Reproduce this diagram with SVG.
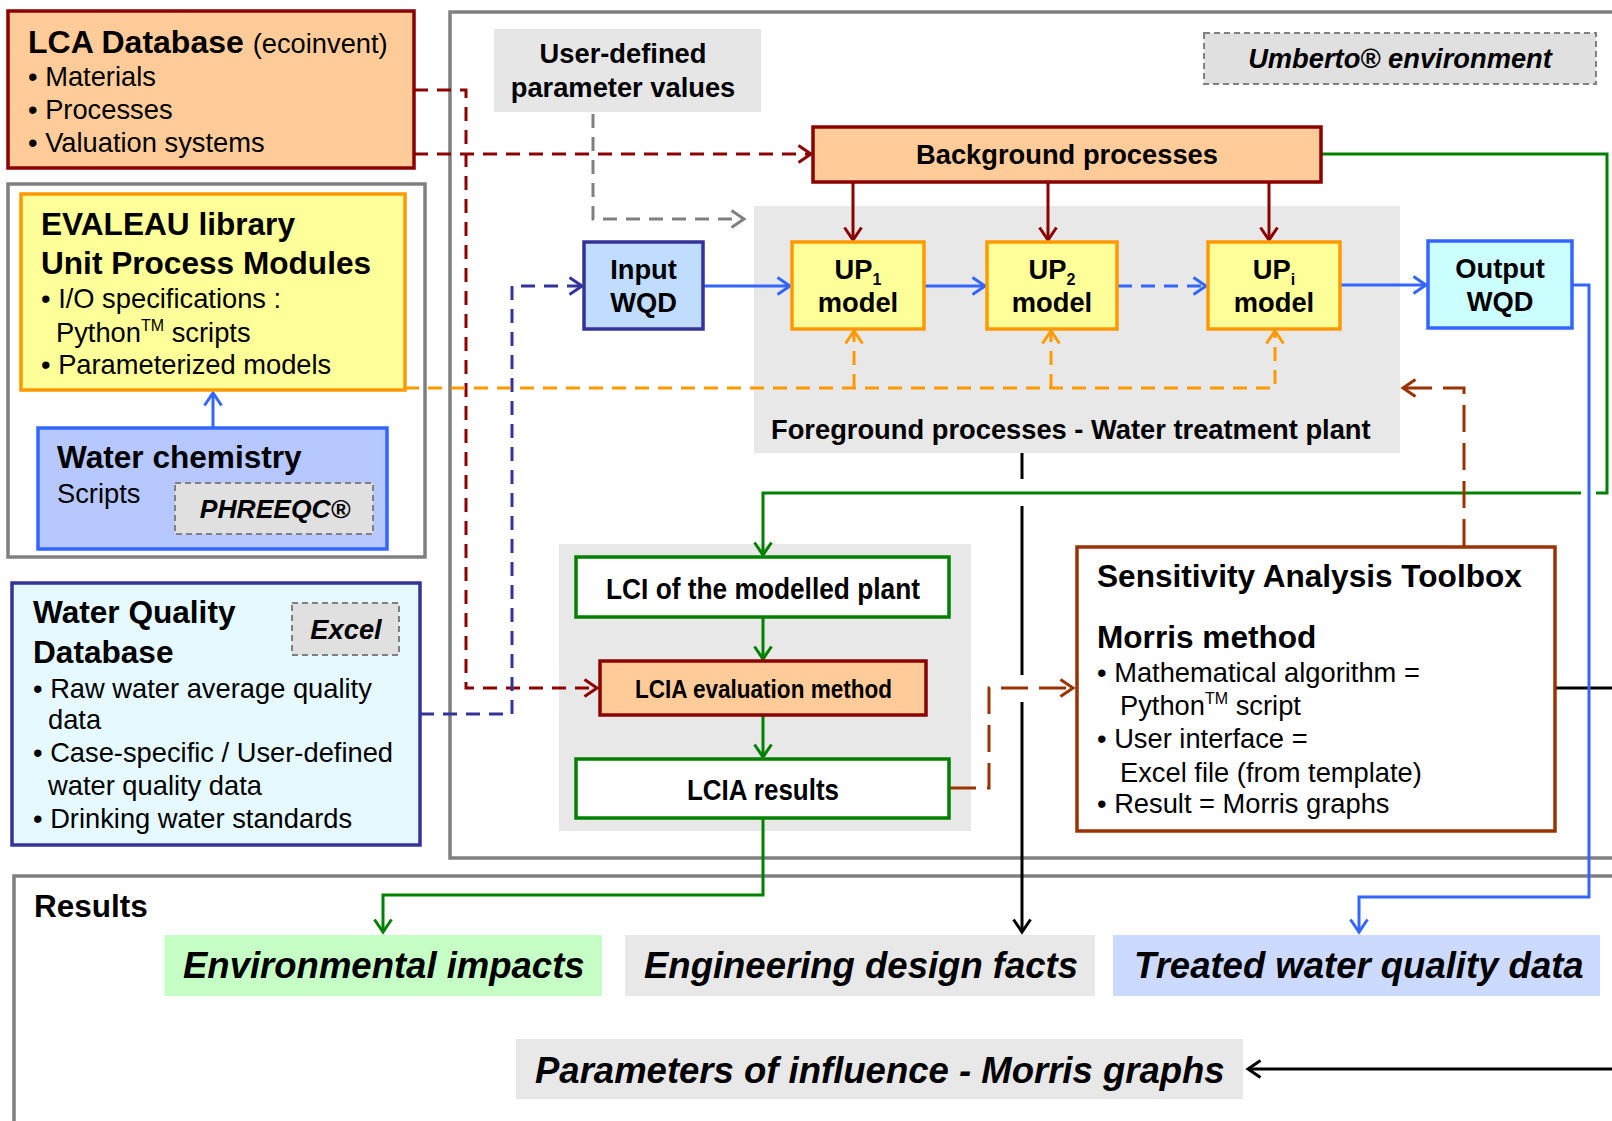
<svg xmlns="http://www.w3.org/2000/svg" width="1612" height="1121" viewBox="0 0 1612 1121">
  <style>
    text { font-family: "Liberation Sans", Arial, sans-serif; fill: #000; }
    .b { font-weight: bold; }
    .bi { font-weight: bold; font-style: italic; }
    .r { font-weight: normal; }
    .t27 { font-size: 27.3px; }
    .t31 { font-size: 31.6px; }
    .big { font-size: 36.5px; font-weight: bold; font-style: italic; }
    .mid { text-anchor: middle; }
    .frame { fill: none; stroke: #808080; stroke-width: 3.5; }
    .area { fill: #E8E8E8; stroke: none; }
    .tag { fill: #E0E0E0; stroke: #808080; stroke-width: 2; stroke-dasharray: 6 4; }
    .c { fill: none; stroke-width: 3; }
    .dash { stroke-dasharray: 14 9; }
    .ldash { stroke-dasharray: 27 11; }
  </style>
  <defs>
    <marker id="a-red" viewBox="0 0 16 20" refX="14" refY="10" markerWidth="16" markerHeight="20" markerUnits="userSpaceOnUse" orient="auto" overflow="visible">
      <path d="M1.5,1.5 L14,10 L1.5,18.5" fill="none" stroke="#8B0000" stroke-width="3"/>
    </marker>
    <marker id="a-orange" viewBox="0 0 16 20" refX="14" refY="10" markerWidth="16" markerHeight="20" markerUnits="userSpaceOnUse" orient="auto" overflow="visible">
      <path d="M1.5,1.5 L14,10 L1.5,18.5" fill="none" stroke="#FF9900" stroke-width="3"/>
    </marker>
    <marker id="a-blue" viewBox="0 0 16 20" refX="14" refY="10" markerWidth="16" markerHeight="20" markerUnits="userSpaceOnUse" orient="auto" overflow="visible">
      <path d="M1.5,1.5 L14,10 L1.5,18.5" fill="none" stroke="#3366FF" stroke-width="3"/>
    </marker>
    <marker id="a-navy" viewBox="0 0 16 20" refX="14" refY="10" markerWidth="16" markerHeight="20" markerUnits="userSpaceOnUse" orient="auto" overflow="visible">
      <path d="M1.5,1.5 L14,10 L1.5,18.5" fill="none" stroke="#333399" stroke-width="3"/>
    </marker>
    <marker id="a-green" viewBox="0 0 16 20" refX="14" refY="10" markerWidth="16" markerHeight="20" markerUnits="userSpaceOnUse" orient="auto" overflow="visible">
      <path d="M1.5,1.5 L14,10 L1.5,18.5" fill="none" stroke="#008000" stroke-width="3"/>
    </marker>
    <marker id="a-brown" viewBox="0 0 16 20" refX="14" refY="10" markerWidth="16" markerHeight="20" markerUnits="userSpaceOnUse" orient="auto" overflow="visible">
      <path d="M1.5,1.5 L14,10 L1.5,18.5" fill="none" stroke="#993300" stroke-width="3"/>
    </marker>
    <marker id="a-gray" viewBox="0 0 16 20" refX="14" refY="10" markerWidth="16" markerHeight="20" markerUnits="userSpaceOnUse" orient="auto" overflow="visible">
      <path d="M1.5,1.5 L14,10 L1.5,18.5" fill="none" stroke="#808080" stroke-width="3"/>
    </marker>
    <marker id="a-black" viewBox="0 0 16 20" refX="14" refY="10" markerWidth="16" markerHeight="20" markerUnits="userSpaceOnUse" orient="auto" overflow="visible">
      <path d="M1.5,1.5 L14,10 L1.5,18.5" fill="none" stroke="#000" stroke-width="3"/>
    </marker>
  </defs>

  <rect width="1612" height="1121" fill="#fff"/>

  <!-- container frames and shaded areas -->
  <g id="umberto-frame">
    <rect class="frame" x="450" y="12" width="1250" height="846"/>
    <rect class="tag" x="1204" y="33" width="392" height="51"/>
    <text class="bi t27 mid" x="1400" y="68">Umberto® environment</text>
  </g>
  <g id="results-frame">
    <rect class="frame" x="14" y="876" width="1700" height="400"/>
    <text class="b" x="34" y="917" font-size="31.5">Results</text>
  </g>
  <g id="foreground">
    <rect class="area" x="754" y="206" width="646" height="247"/>
    <text class="b t27" x="771" y="439">Foreground processes - Water treatment plant</text>
  </g>
  <g id="lca-area">
    <rect class="area" x="559" y="544" width="412" height="287"/>
  </g>

  <!-- connectors -->
  <g id="connectors">
    <!-- LCA database feeds -->
    <path class="c dash" stroke="#8B0000" d="M414,90 H466 V688 H597" marker-end="url(#a-red)"/>
    <path class="c dash" stroke="#8B0000" d="M414,154 H811" marker-end="url(#a-red)"/>
    <!-- user-defined parameters -->
    <path class="c dash" stroke="#808080" d="M593,114 V219 H744" marker-end="url(#a-gray)"/>
    <!-- water quality database to input -->
    <path class="c dash" stroke="#333399" d="M420,714 H512 V286 H582" marker-end="url(#a-navy)"/>
    <!-- unit process modules to models -->
    <path class="c dash" stroke="#FF9900" d="M405,388 H1275 V331" marker-end="url(#a-orange)"/>
    <path class="c dash" stroke="#FF9900" d="M854,388 V331" marker-end="url(#a-orange)"/>
    <path class="c dash" stroke="#FF9900" d="M1051,388 V331" marker-end="url(#a-orange)"/>
    <!-- water chemistry to library -->
    <path class="c" stroke="#3366FF" d="M213,428 V393" marker-end="url(#a-blue)"/>
    <!-- background processes to models -->
    <path class="c" stroke="#8B0000" d="M853,182 V240" marker-end="url(#a-red)"/>
    <path class="c" stroke="#8B0000" d="M1048,182 V240" marker-end="url(#a-red)"/>
    <path class="c" stroke="#8B0000" d="M1269,182 V240" marker-end="url(#a-red)"/>
    <!-- water flow through the models -->
    <path class="c" stroke="#3366FF" d="M703,286 H790" marker-end="url(#a-blue)"/>
    <path class="c" stroke="#3366FF" d="M924,286 H985" marker-end="url(#a-blue)"/>
    <path class="c dash" stroke="#3366FF" d="M1118,286 H1206" marker-end="url(#a-blue)"/>
    <path class="c" stroke="#3366FF" d="M1340,285 H1426" marker-end="url(#a-blue)"/>
    <!-- inventory flow -->
    <path class="c" stroke="#008000" d="M1321,154 H1607 V493 H1596"/>
    <path class="c" stroke="#008000" d="M1581,493 H763 V555" marker-end="url(#a-green)"/>
    <path class="c" stroke="#008000" d="M763,617 V659" marker-end="url(#a-green)"/>
    <path class="c" stroke="#008000" d="M763,715 V757" marker-end="url(#a-green)"/>
    <path class="c" stroke="#008000" d="M763,818 V895 H383 V932" marker-end="url(#a-green)"/>
    <!-- sensitivity loop -->
    <path class="c ldash" stroke="#993300" d="M949,788 H989 V688 H1073" marker-end="url(#a-brown)"/>
    <path class="c ldash" stroke="#993300" d="M1464,546 V388 H1403" marker-end="url(#a-brown)"/>
    <!-- engineering facts -->
    <path class="c" stroke="#000" d="M1022,453 V479"/>
    <path class="c" stroke="#000" d="M1022,506 V675"/>
    <path class="c" stroke="#000" d="M1022,702 V932" marker-end="url(#a-black)"/>
    <!-- Morris graphs -->
    <path class="c" stroke="#000" d="M1555,688 H1612"/>
    <path class="c" stroke="#000" d="M1612,1069 H1248" marker-end="url(#a-black)"/>
    <!-- treated water -->
    <path class="c" stroke="#3366FF" d="M1572,285 H1589 V897 H1359 V932" marker-end="url(#a-blue)"/>
  </g>

  <!-- nodes -->
  <g id="lca-database">
    <rect x="8" y="11" width="406" height="157" fill="#FFCC99" stroke="#8B0000" stroke-width="3.5"/>
    <text class="b" x="28" y="53" font-size="32">LCA Database <tspan class="r t27">(ecoinvent)</tspan></text>
    <text class="t27" x="28" y="86">• Materials</text>
    <text class="t27" x="28" y="119">• Processes</text>
    <text class="t27" x="28" y="152">• Valuation systems</text>
  </g>

  <g id="evaleau-group">
    <rect class="frame" x="8" y="184" width="417" height="373"/>
  </g>
  <g id="evaleau-library">
    <rect x="21" y="194" width="384" height="196" fill="#FFFF99" stroke="#FF9900" stroke-width="3.5"/>
    <text class="b t31" x="41" y="235">EVALEAU library</text>
    <text class="b t31" x="41" y="274">Unit Process Modules</text>
    <text class="t27" x="41" y="308">• I/O specifications :</text>
    <text class="t27" x="56" y="342">Python<tspan font-size="16" dy="-11">TM</tspan><tspan dy="11"> scripts</tspan></text>
    <text class="t27" x="41" y="374">• Parameterized models</text>
  </g>
  <g id="water-chemistry">
    <rect x="38" y="428" width="349" height="121" fill="#B6C8FF" stroke="#3366FF" stroke-width="3.5"/>
    <text class="b t31" x="57" y="468">Water chemistry</text>
    <text class="t27" x="57" y="503">Scripts</text>
    <rect class="tag" x="175" y="483" width="198" height="51"/>
    <text class="bi mid" x="275" y="518" font-size="26.5">PHREEQC®</text>
  </g>

  <g id="water-quality-db">
    <rect x="12" y="583" width="408" height="262" fill="#E6F9FF" stroke="#333399" stroke-width="3.5"/>
    <text class="b t31" x="33" y="623">Water Quality</text>
    <text class="b t31" x="33" y="663">Database</text>
    <rect class="tag" x="292" y="603" width="107" height="52"/>
    <text class="bi t27 mid" x="346" y="639">Excel</text>
    <text class="t27" x="33" y="698">• Raw water average quality</text>
    <text class="t27" x="48" y="729">data</text>
    <text class="t27" x="33" y="762">• Case-specific / User-defined</text>
    <text class="t27" x="48" y="795">water quality data</text>
    <text class="t27" x="33" y="828">• Drinking water standards</text>
  </g>

  <g id="user-parameters">
    <rect x="494" y="29" width="267" height="83" fill="#E6E6E6"/>
    <text class="b t27 mid" x="623" y="63">User-defined</text>
    <text class="b t27 mid" x="623" y="97">parameter values</text>
  </g>

  <g id="background-processes">
    <rect x="813" y="127" width="508" height="55" fill="#FFCC99" stroke="#8B0000" stroke-width="3.5"/>
    <text class="b t27 mid" x="1067" y="164">Background processes</text>
  </g>

  <g id="input-wqd">
    <rect x="584" y="242" width="119" height="87" fill="#C0DCFF" stroke="#333399" stroke-width="3.5"/>
    <text class="b t27 mid" x="643.5" y="279">Input</text>
    <text class="b t27 mid" x="643.5" y="312">WQD</text>
  </g>
  <g id="up1">
    <rect x="792" y="242" width="132" height="87" fill="#FFFF99" stroke="#FF9900" stroke-width="3.5"/>
    <text class="b t27 mid" x="858" y="279">UP<tspan font-size="16" dy="6">1</tspan></text>
    <text class="b t27 mid" x="858" y="312">model</text>
  </g>
  <g id="up2">
    <rect x="987" y="242" width="130" height="87" fill="#FFFF99" stroke="#FF9900" stroke-width="3.5"/>
    <text class="b t27 mid" x="1052" y="279">UP<tspan font-size="16" dy="6">2</tspan></text>
    <text class="b t27 mid" x="1052" y="312">model</text>
  </g>
  <g id="upi">
    <rect x="1208" y="242" width="132" height="87" fill="#FFFF99" stroke="#FF9900" stroke-width="3.5"/>
    <text class="b t27 mid" x="1274" y="279">UP<tspan font-size="16" dy="6">i</tspan></text>
    <text class="b t27 mid" x="1274" y="312">model</text>
  </g>
  <g id="output-wqd">
    <rect x="1428" y="241" width="144" height="87" fill="#CCFFFF" stroke="#3366FF" stroke-width="3.5"/>
    <text class="b t27 mid" x="1500" y="278">Output</text>
    <text class="b t27 mid" x="1500" y="311">WQD</text>
  </g>

  <g id="lci">
    <rect x="576" y="557" width="373" height="60" fill="#fff" stroke="#008000" stroke-width="3.5"/>
    <text class="b" x="606" y="599" font-size="29" textLength="314" lengthAdjust="spacingAndGlyphs">LCI of the modelled plant</text>
  </g>
  <g id="lcia-method">
    <rect x="600" y="661" width="326" height="54" fill="#FFCC99" stroke="#8B0000" stroke-width="3.5"/>
    <text class="b" x="635" y="698" font-size="26" textLength="257" lengthAdjust="spacingAndGlyphs">LCIA evaluation method</text>
  </g>
  <g id="lcia-results">
    <rect x="576" y="759" width="373" height="59" fill="#fff" stroke="#008000" stroke-width="3.5"/>
    <text class="b" x="687" y="800" font-size="29" textLength="152" lengthAdjust="spacingAndGlyphs">LCIA results</text>
  </g>

  <g id="sensitivity-toolbox">
    <rect x="1077" y="547" width="478" height="284" fill="#fff" stroke="#993300" stroke-width="3.5"/>
    <text class="b t31" x="1097" y="587">Sensitivity Analysis Toolbox</text>
    <text class="b t31" x="1097" y="648">Morris method</text>
    <text class="t27" x="1097" y="682">• Mathematical algorithm =</text>
    <text class="t27" x="1120" y="715">Python<tspan font-size="16" dy="-11">TM</tspan><tspan dy="11"> script</tspan></text>
    <text class="t27" x="1097" y="748">• User interface =</text>
    <text class="t27" x="1120" y="782">Excel file (from template)</text>
    <text class="t27" x="1097" y="813">• Result = Morris graphs</text>
  </g>

  <g id="environmental-impacts">
    <rect x="164.5" y="935" width="437.5" height="61" fill="#C6FFC6"/>
    <text class="big" x="183" y="978">Environmental impacts</text>
  </g>
  <g id="engineering-facts">
    <rect x="625" y="935" width="470" height="61" fill="#E8E8E8"/>
    <text class="big" x="644" y="978">Engineering design facts</text>
  </g>
  <g id="treated-water">
    <rect x="1113" y="935" width="487" height="61" fill="#CCDAFF"/>
    <text class="big" x="1134" y="978">Treated water quality data</text>
  </g>
  <g id="morris-graphs">
    <rect x="516" y="1039" width="727" height="60" fill="#E8E8E8"/>
    <text class="big" x="535" y="1083">Parameters of influence - Morris graphs</text>
  </g>
</svg>
